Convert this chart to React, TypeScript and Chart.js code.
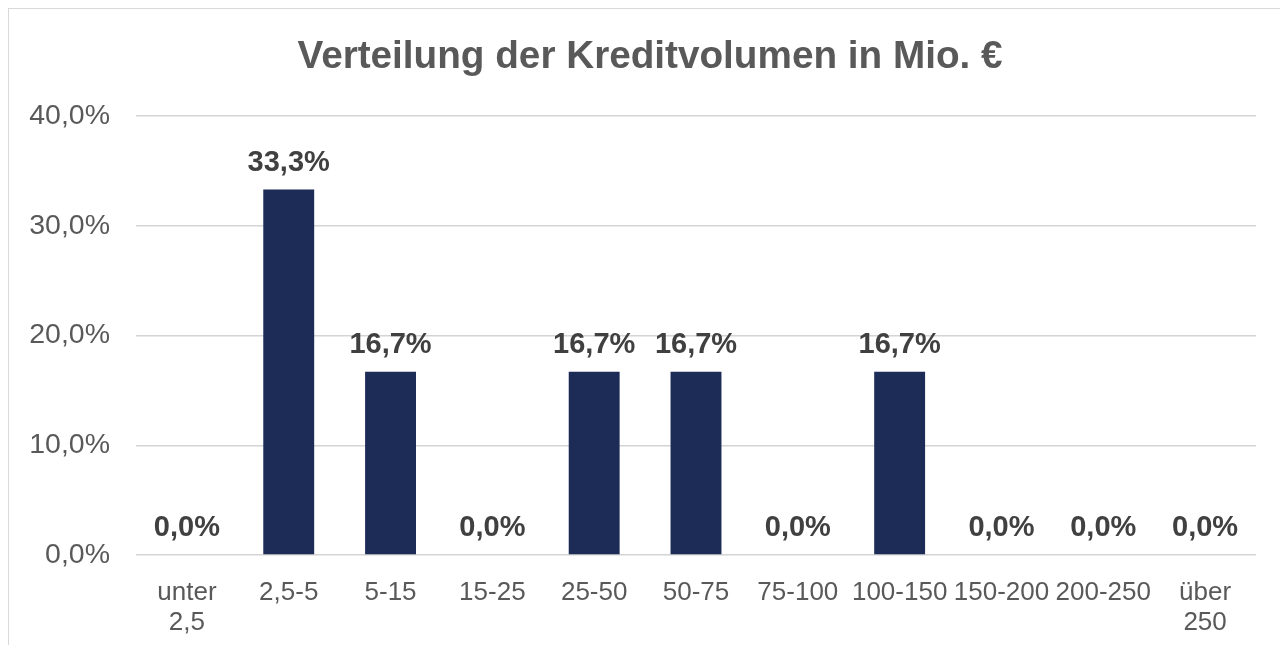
import React, { useEffect, useRef } from "react";
import { Chart, registerables } from "chart.js";

Chart.register(...registerables);

const TITLE = "Verteilung der Kreditvolumen in Mio. €";
const CATEGORIES: (string | string[])[] = [
  ["unter", "2,5"],
  "2,5-5",
  "5-15",
  "15-25",
  "25-50",
  "50-75",
  "75-100",
  "100-150",
  "150-200",
  "200-250",
  ["über", "250"],
];
const SHARES = [0.0, 33.3, 16.7, 0.0, 16.7, 16.7, 0.0, 16.7, 0.0, 0.0, 0.0];
const Y_MIN = 0;
const Y_MAX = 40;
const Y_STEP = 10;

const FONT = "'Liberation Sans', Arial, sans-serif";
const fmt = (v: number) => v.toFixed(1).replace(".", ",") + "%";

const labelPlugin = {
  id: "barLabels",
  afterDatasetsDraw(chart: any) {
    const ctx = chart.ctx;
    const meta = chart.getDatasetMeta(0);
    ctx.save();
    ctx.font = "bold 29px " + FONT;
    ctx.fillStyle = "#404040";
    ctx.textAlign = "center";
    ctx.textBaseline = "alphabetic";
    meta.data.forEach((el: any, i: number) => {
      ctx.fillText(fmt(SHARES[i]), el.x, el.y - 19);
    });
    ctx.restore();
  },
};

const titlePlugin = {
  id: "customTitle",
  afterDraw(chart: any) {
    const ctx = chart.ctx;
    ctx.save();
    ctx.font = "bold 38.7px " + FONT;
    ctx.fillStyle = "#595959";
    ctx.textAlign = "center";
    ctx.textBaseline = "alphabetic";
    ctx.fillText(TITLE, 641, 59);
    ctx.restore();
  },
};

export default function App() {
  const ref = useRef<HTMLCanvasElement | null>(null);
  useEffect(() => {
    if (!ref.current) return;
    const chart = new Chart(ref.current, {
      type: "bar",
      data: {
        labels: CATEGORIES,
        datasets: [
          {
            data: SHARES,
            backgroundColor: "#1D2B57",
            barPercentage: 0.5,
            categoryPercentage: 1.0,
          },
        ],
      },
      options: {
        responsive: false,
        animation: false,
        layout: { padding: { left: 0, right: 32, top: 107, bottom: 0 } },
        plugins: {
          legend: { display: false },
          tooltip: { enabled: false },
          title: { display: false },
        },
        scales: {
          x: {
            grid: { display: false },
            border: { display: false },
            ticks: {
              color: "#595959",
              font: { family: FONT, size: 26, lineHeight: 1.15 },
              padding: 15,
              maxRotation: 0,
              autoSkip: false,
            },
            afterFit: (s: any) => {
              s.height = 90;
            },
          },
          y: {
            min: Y_MIN,
            max: Y_MAX,
            border: { display: false },
            grid: { color: "#D4D4D4", lineWidth: 1.5, drawTicks: false, tickLength: 0 },
            ticks: {
              stepSize: Y_STEP,
              color: "#595959",
              padding: 26,
              autoSkip: false,
              font: { family: FONT, size: 28.5 },
              callback: (v: any) => fmt(Number(v)),
            },
            afterFit: (s: any) => {
              s.width = 127;
            },
          },
        },
      },
      plugins: [labelPlugin, titlePlugin],
    });
    return () => chart.destroy();
  }, []);
  return (
    <div
      style={{
        width: 1279,
        height: 636,
        borderTop: "1px solid #D9D9D9",
        borderLeft: "1px solid #D9D9D9",
        background: "#fff",
      }}
    >
      <canvas ref={ref} width={1279} height={636} style={{ display: "block" }} />
    </div>
  );
}
